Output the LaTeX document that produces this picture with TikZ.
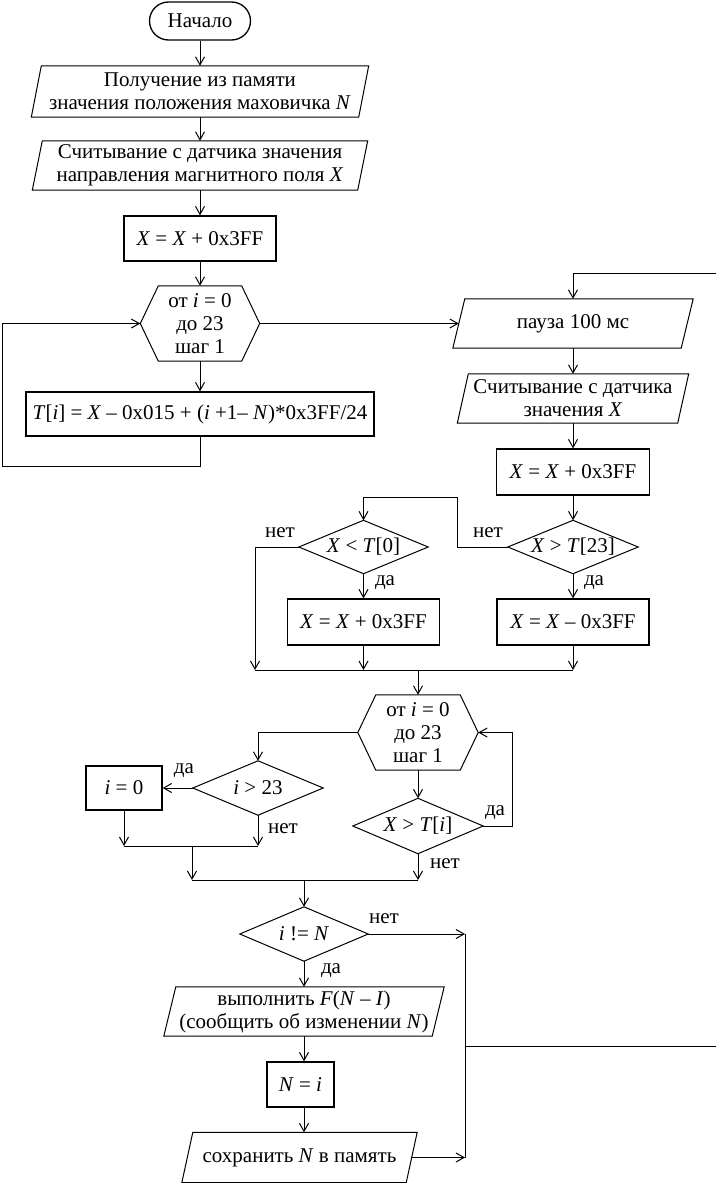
\documentclass[tikz,border=0pt]{standalone}
\usepackage{fontspec}
\setmainfont{Liberation Serif}
\usetikzlibrary{arrows.meta}
\newcommand\drawpara[2]{\draw[line width=1pt] ([xshift=#2]#1.north west) -- ([xshift=#2]#1.north east) -- ([xshift=-#2]#1.south east) -- ([xshift=-#2]#1.south west) -- cycle;}
\newcommand\drawhex[2]{\draw[line width=1pt] (#1.north west) -- (#1.north east) -- ([xshift=#2]#1.east) -- (#1.south east) -- (#1.south west) -- ([xshift=-#2]#1.west) -- cycle;}
\newcommand\drawdiam[1]{\draw[line width=1pt] (#1.north) -- (#1.east) -- (#1.south) -- (#1.west) -- cycle;}
\tikzset{
  base/.style={font=\fontsize{21pt}{23pt}\selectfont, inner sep=0pt, align=center},
  proc/.style={base, draw, line width=1.3pt},
  dec/.style={base},
  conn/.style={line width=1pt},
  arr/.style={conn, -{Straight Barb[length=8pt,width=9pt,line width=1pt]}},
  lbl/.style={font=\fontsize{21pt}{23pt}\selectfont, inner sep=0pt}
}
\begin{document}
\begin{tikzpicture}[x=1pt,y=-1pt]
\useasboundingbox (0,0) rectangle (715,1183);
% left column
\node[proc, rounded corners=19pt, minimum width=101pt, minimum height=38pt] (start) at (200,21) {Начало};
\node[base, minimum width=327pt, minimum height=51pt] (p1) at (200,91.5) {Получение из памяти\\значения положения маховичка \textit{N}};
\drawpara{p1}{5pt}
\node[base, minimum width=325pt, minimum height=49pt] (p2) at (200,165.5) {Считывание с датчика значения\\направления магнитного поля \textit{X}};
\drawpara{p2}{5pt}
\node[proc, minimum width=152pt, minimum height=45pt] (r1) at (200,238.5) {\textit{X} = \textit{X} + 0x3FF};
\node[base, minimum width=83pt, minimum height=75pt] (h1) at (200,323.5) {от \textit{i} = 0\\до 23\\шаг 1};
\drawhex{h1}{18pt}
\coordinate (h1w) at ([xshift=-18pt]h1.west);
\coordinate (h1e) at ([xshift=18pt]h1.east);
\node[proc, minimum width=348pt, minimum height=44pt] (r2) at (200,414) {\textit{T}[\textit{i}] = \textit{X} – 0x015 + (\textit{i} +1– \textit{N})*0x3FF/24};
% right column
\node[base, minimum width=228pt, minimum height=49pt] (p3) at (573,323.5) {пауза 100 мс};
\drawpara{p3}{6pt}
\node[base, minimum width=220pt, minimum height=49pt] (p4) at (573,398.5) {Считывание с датчика\\значения \textit{X}};
\drawpara{p4}{5.5pt}
\node[proc, minimum width=153pt, minimum height=46pt] (r3) at (573,472) {\textit{X} = \textit{X} + 0x3FF};
\node[dec, minimum width=130pt, minimum height=53pt] (d1) at (573,547) {\textit{X} > \textit{T}[23]};
\drawdiam{d1}
\node[dec, minimum width=129pt, minimum height=53pt] (d2) at (363.5,547) {\textit{X} < \textit{T}[0]};
\drawdiam{d2}
\node[proc, minimum width=152pt, minimum height=46pt] (r4) at (363.5,622) {\textit{X} = \textit{X} + 0x3FF};
\node[proc, minimum width=152pt, minimum height=46pt] (r5) at (573,622) {\textit{X} = \textit{X} – 0x3FF};
% second loop
\node[base, minimum width=84pt, minimum height=75pt] (h2) at (418,732.5) {от \textit{i} = 0\\до 23\\шаг 1};
\drawhex{h2}{18pt}
\coordinate (h2w) at ([xshift=-18pt]h2.west);
\coordinate (h2e) at ([xshift=18pt]h2.east);
\node[dec, minimum width=130pt, minimum height=54pt] (d3) at (258,788) {\textit{i} > 23};
\drawdiam{d3}
\node[proc, minimum width=76pt, minimum height=44pt] (r6) at (124,788) {\textit{i} = 0};
\node[dec, minimum width=130pt, minimum height=55pt] (d4) at (418,826) {\textit{X} > \textit{T}[\textit{i}]};
\drawdiam{d4}
\node[dec, minimum width=128pt, minimum height=54pt] (d5) at (304,934) {\textit{i} != \textit{N}};
\drawdiam{d5}
\node[base, minimum width=268pt, minimum height=49pt] (p5) at (304,1011.5) {выполнить \textit{F}(\textit{N} – \textit{I})\\(сообщить об изменении \textit{N})};
\drawpara{p5}{6pt}
\node[proc, minimum width=67pt, minimum height=45pt] (r7) at (300.5,1084.5) {\textit{N} = \textit{i}};
\node[base, minimum width=224pt, minimum height=50pt] (p6) at (299.5,1157.5) {сохранить \textit{N} в память};
\drawpara{p6}{5.5pt}
% labels
\node[lbl] (l1) at (488,533) {нет};
\node[lbl] (l2) at (594,583) {да};
\node[lbl] (l3) at (280,533) {нет};
\node[lbl] (l4) at (385,583) {да};
\node[lbl] (l5) at (184,771) {да};
\node[lbl] (l6) at (283,829) {нет};
\node[lbl] (l7) at (495,813) {да};
\node[lbl] (l8) at (445,864) {нет};
\node[lbl] (l9) at (384,919) {нет};
\node[lbl] (l10) at (331,971) {да};
% coordinates
\coordinate (L1) at (2,466);
\coordinate (a1) at (457,497);
\coordinate (m1) at (255,670);
\coordinate (m1j) at (418,670);
\coordinate (m2) at (124,846);
\coordinate (m2j) at (192,846);
\coordinate (m3) at (192,880);
\coordinate (m3j) at (304,880);
\coordinate (a2) at (512,826);
\coordinate (j1) at (465,934);
\coordinate (j2) at (465,1157.5);
\coordinate (j3) at (465,1046);
\coordinate (R1) at (716.5,273);
\coordinate (R2) at (716.5,1046);
% connectors
\draw[arr] (start.south) -- (p1.north);
\draw[arr] (p1.south) -- (p2.north);
\draw[arr] (p2.south) -- (r1.north);
\draw[arr] (r1.south) -- (h1.north);
\draw[arr] (h1.south) -- (r2.north);
\draw[arr] (r2.south) |- (L1) |- (h1w);
\draw[arr] (h1e) -- (p3.west);
\draw[arr] (p3.south) -- (p4.north);
\draw[arr] (p4.south) -- (r3.north);
\draw[arr] (r3.south) -- (d1.north);
\draw[arr] (d1.west) -| (a1) -| (d2.north);
\draw[arr] (d1.south) -- (r5.north);
\draw[arr] (d2.south) -- (r4.north);
\draw[arr] (d2.west) -| (m1);
\draw[arr] (r4.south) -- (r4.south |- m1);
\draw[arr] (r5.south) -- (r5.south |- m1);
\draw[conn] (m1) -- (r5.south |- m1);
\draw[arr] (m1j) -- (h2.north);
\draw[arr] (h2w) -| (d3.north);
\draw[arr] (d3.west) -- (r6.east);
\draw[arr] (r6.south) -- (r6.south |- m2);
\draw[arr] (d3.south) -- (d3.south |- m2);
\draw[conn] (r6.south |- m2) -- (d3.south |- m2);
\draw[arr] (m2j) -- (m3);
\draw[arr] (h2.south) -- (d4.north);
\draw[arr] (d4.east) -- (a2) |- (h2e);
\draw[arr] (d4.south) -- (d4.south |- m3);
\draw[conn] (m3) -- (d4.south |- m3);
\draw[arr] (m3j) -- (d5.north);
\draw[arr] (d5.south) -- (p5.north);
\draw[arr] (p5.south) -- (p5.south |- r7.north);
\draw[arr] (p5.south |- r7.south) -- (p6.north -| p5.south);
\draw[arr] (d5.east) -- (j1);
\draw[arr] (p6.east) -- (j2);
\draw[conn] (j1) -- (j2);
\draw[arr] (j3) -- (R2) -- (R1) -| (p3.north);
\end{tikzpicture}
\end{document}
